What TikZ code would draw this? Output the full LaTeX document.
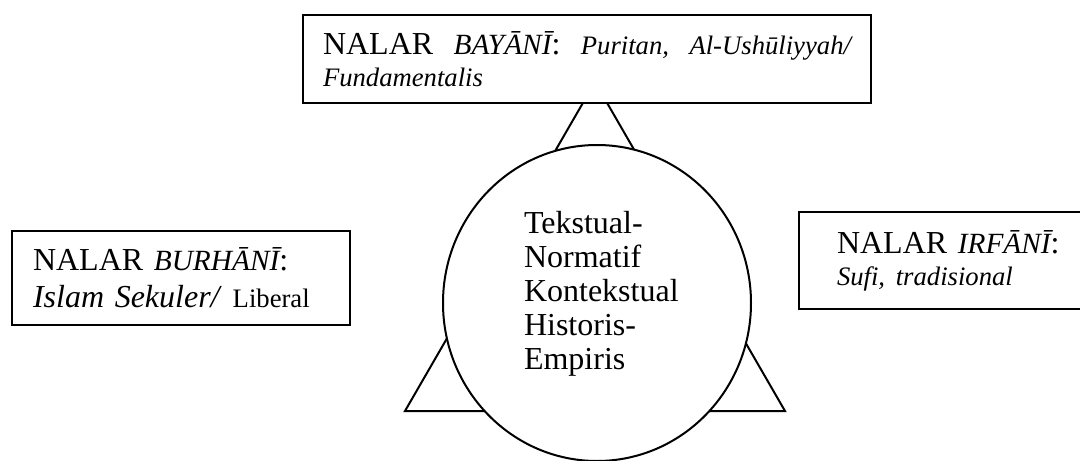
\documentclass[tikz,border=0pt]{standalone}
\usepackage{fontspec}
\setmainfont{Liberation Serif}
\newcommand{\kecil}{\fontsize{10}{12}\selectfont}
\newcommand{\nalarit}[1]{{\fontsize{11}{12}\selectfont\itshape #1}}
\tikzset{
  nalarbox/.style={draw, fill=white, align=left, inner ysep=0pt},
}
\begin{document}
\begin{tikzpicture}[x=0.375pt,y=-0.375pt,line width=0.75pt]
\clip (0,0) rectangle (1080,461);
% segitiga di belakang
\draw (595,82) -- (405,411) -- (785,411) -- cycle;
% lingkaran tengah
\draw[fill=white] (597,303) ellipse [x radius=154, y radius=158];
\node[anchor=north west, inner sep=0pt, align=left,
      font=\fontsize{12}{12.75}\selectfont] (pusat) at (523,210)
  {Tekstual-\\Normatif\\Kontekstual\\Historis-\\Empiris};
% kotak-kotak nalar
\node[nalarbox, minimum height=33pt, text width=198pt, inner xsep=7.5pt,
      font=\fontsize{12}{12}\selectfont] (bayani) at (587,59)
  {NALAR\hfill\nalarit{BAYĀNĪ}:\hfill{\kecil\itshape Puritan,\hfill Al-Ushūliyyah/}\\{\kecil\itshape Fundamentalis}};
\node[nalarbox, minimum height=35.25pt, text width=111pt, inner xsep=7.875pt,
      font=\fontsize{12}{13.9}\selectfont] (burhani) at (181,278)
  {NALAR \nalarit{BURHĀNĪ}:\\\textit{Islam Sekuler/} {\kecil Liberal}};
\node[nalarbox, minimum height=36.4pt, text width=95.25pt, inner xsep=6pt,
      font=\fontsize{12}{12}\selectfont] (irfani) at (942,260.5)
  {\hspace*{8.25pt}NALAR~\nalarit{IRFĀNĪ}:\\\hspace*{8.25pt}{\kecil\itshape Sufi, tradisional}};
\end{tikzpicture}
\end{document}
